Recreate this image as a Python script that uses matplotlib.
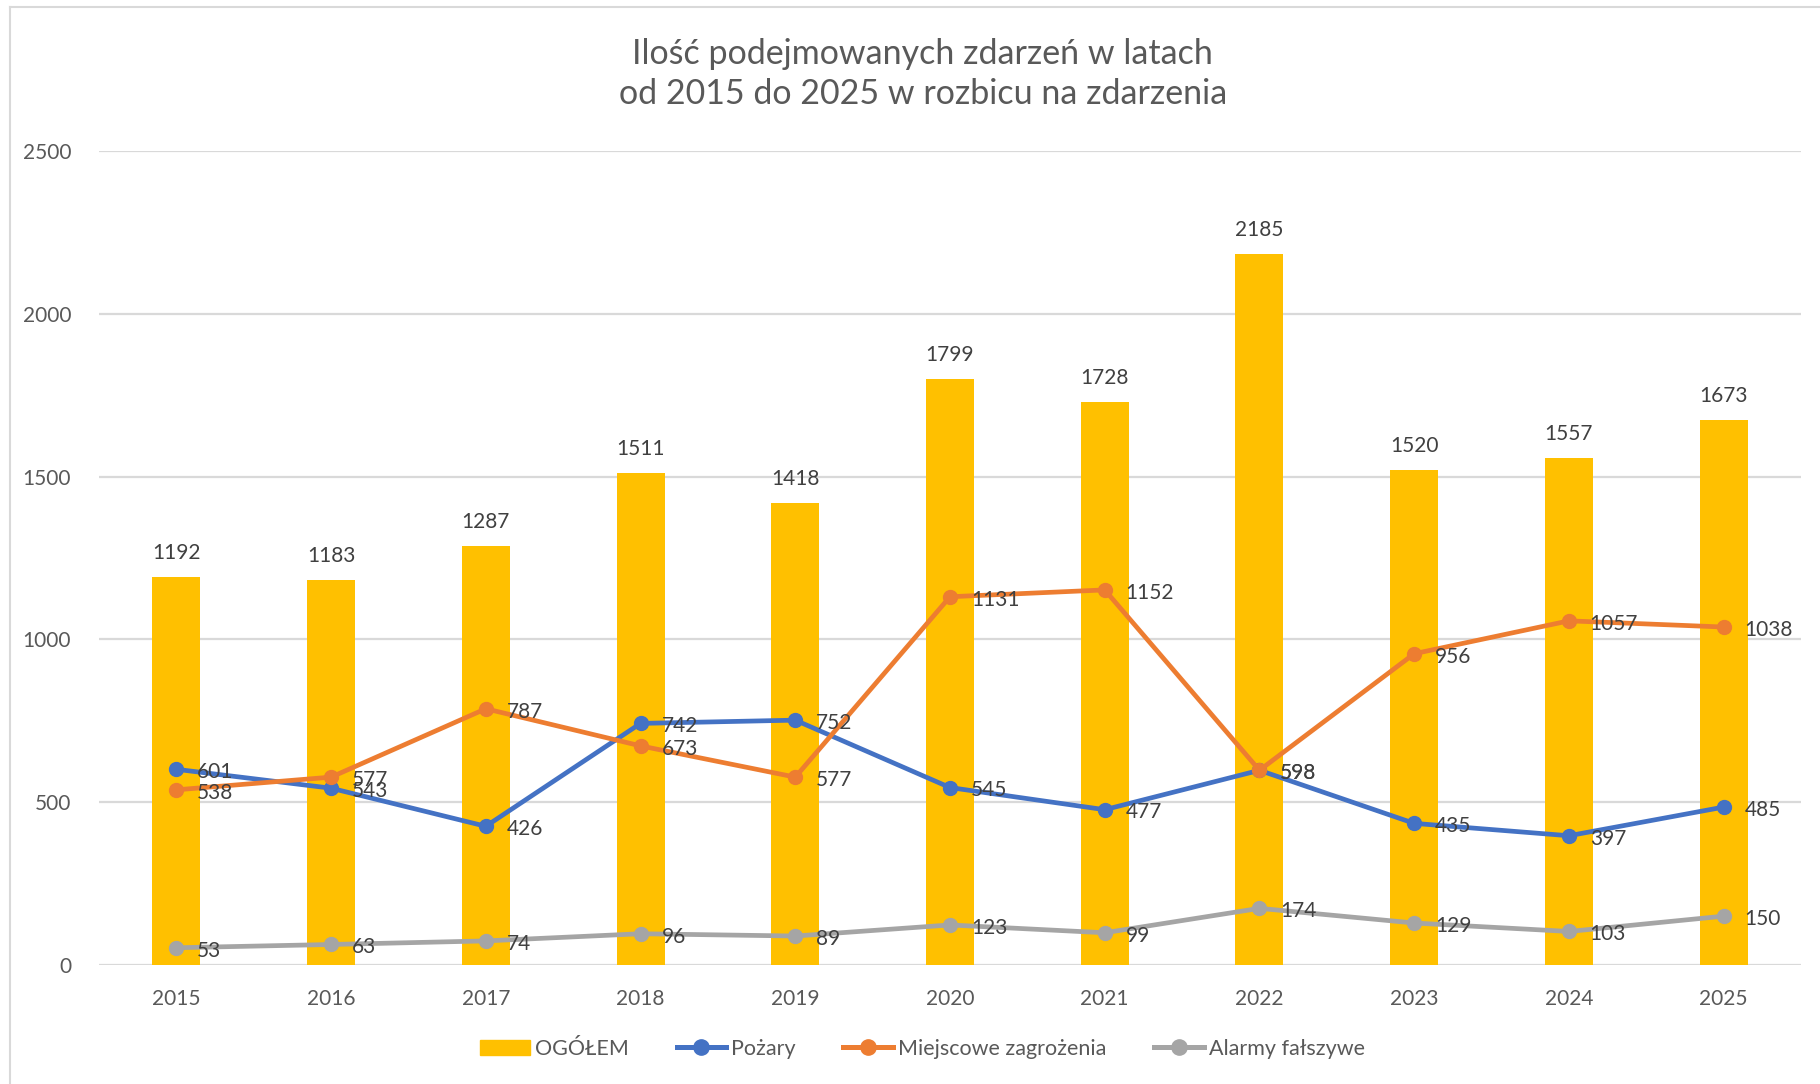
import matplotlib
matplotlib.use("Agg")
import matplotlib.pyplot as plt
from matplotlib.lines import Line2D
from matplotlib.patches import Patch

years = ["2015", "2016", "2017", "2018", "2019", "2020", "2021", "2022", "2023", "2024", "2025"]
ogolem = [1192, 1183, 1287, 1511, 1418, 1799, 1728, 2185, 1520, 1557, 1673]
pozary = [601, 543, 426, 742, 752, 545, 477, 598, 435, 397, 485]
miejscowe = [538, 577, 787, 673, 577, 1131, 1152, 598, 956, 1057, 1038]
alarmy = [53, 63, 74, 96, 89, 123, 99, 174, 129, 103, 150]

TITLE = "Ilość podejmowanych zdarzeń w latach\nod 2015 do 2025 w rozbicu na zdarzenia"

C_BAR = "#FFC000"
C_BLUE = "#4472C4"
C_ORANGE = "#ED7D31"
C_GRAY = "#A5A5A5"
C_TEXT = "#595959"
C_LABEL = "#404040"
C_GRID = "#D9D9D9"

plt.rcParams["font.family"] = ["Lato", "DejaVu Sans"]

fig = plt.figure(figsize=(18.2, 10.84), dpi=100)
ax = fig.add_axes([99 / 1820, 1 - 965 / 1084, (1801 - 99) / 1820, (965 - 151) / 1084])

x = list(range(len(years)))

# bars + labels above
ax.bar(x, ogolem, width=0.31, color=C_BAR, zorder=2)
for xi, v in zip(x, ogolem):
    ax.annotate(str(v), (xi, v), xytext=(0, 10), textcoords="offset points",
                ha="center", va="bottom", fontsize=15, color=C_LABEL)

series = [
    ("Pożary", pozary, C_BLUE),
    ("Miejscowe zagrożenia", miejscowe, C_ORANGE),
    ("Alarmy fałszywe", alarmy, C_GRAY),
]
for i, (name, vals, col) in enumerate(series):
    ax.plot(x, vals, color=col, lw=3.4, marker="o", ms=10, zorder=3 + i)
for i, (name, vals, col) in enumerate(series):
    for xi, v in zip(x, vals):
        ax.annotate(str(v), (xi, v), xytext=(15, -2), textcoords="offset points",
                    ha="left", va="center", fontsize=15, color=C_LABEL, zorder=10)

ax.set_xlim(-0.5, len(years) - 0.5)
ax.set_ylim(0, 2500)
ax.set_yticks(range(0, 2501, 500))
ax.set_xticks(x)
ax.set_xticklabels(years)
ax.tick_params(axis="both", length=0, labelsize=15, labelcolor=C_TEXT)
ax.tick_params(axis="x", pad=17)
ax.tick_params(axis="y", pad=20)
ax.grid(axis="y", color=C_GRID, lw=1.6, zorder=0)
ax.set_axisbelow(True)
for s in ax.spines.values():
    s.set_visible(False)

fig.text(0.507, 1 - 74 / 1084, TITLE, ha="center", va="center", fontsize=24.5,
         color=C_TEXT, linespacing=1.3)

handles = [Patch(color=C_BAR)] + [
    Line2D([], [], color=c, lw=3.6, marker="o", ms=11) for _, _, c in series
]
labels = ["OGÓŁEM"] + [n for n, _, _ in series]
fig.legend(handles, labels, loc="center", bbox_to_anchor=(0.507, 1 - 1049 / 1084),
           ncol=4, frameon=False, fontsize=15.5, labelcolor=C_TEXT,
           handlelength=2.3, handletextpad=0.25, columnspacing=2.2)

# chart border (only top and left visible in the crop)
fig.add_artist(Line2D([10 / 1820, 10 / 1820], [0, 1 - 7 / 1084], color=C_GRID, lw=1.5,
                      transform=fig.transFigure))
fig.add_artist(Line2D([10 / 1820, 1], [1 - 7 / 1084, 1 - 7 / 1084], color=C_GRID, lw=1.5,
                      transform=fig.transFigure))

fig.savefig("out.png", dpi=100, facecolor="white")
